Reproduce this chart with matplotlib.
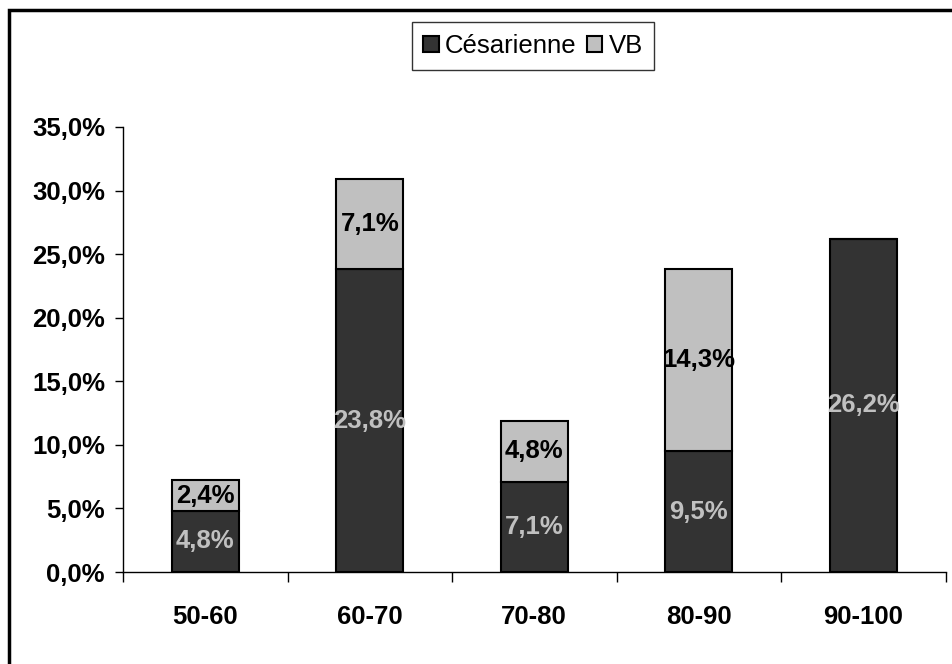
import numpy as np
import matplotlib.pyplot as plt
from matplotlib.patches import Rectangle
from matplotlib.ticker import FuncFormatter

plt.rcParams['font.family'] = ['Liberation Sans', 'DejaVu Sans']

categories = ['50-60', '60-70', '70-80', '80-90', '90-100']
cesarienne = [4.8, 23.8, 7.1, 9.5, 26.2]
vb = [2.4, 7.1, 4.8, 14.3, 0.0]

dark = '#333333'
light = '#c0c0c0'
fs = 18.5

fig = plt.figure(figsize=(9.52, 6.64), dpi=100)
ax = fig.add_axes([123 / 952, 92 / 664, (945.5 - 123) / 952, (572 - 127) / 664])

x = np.arange(len(categories))
w = 0.41
ax.bar(x, cesarienne, w, color=dark, edgecolor='black', linewidth=1.5, label='Césarienne')
ax.bar(x, vb, w, bottom=cesarienne, color=light, edgecolor='black', linewidth=1.5, label='VB')

# etiquettes dans les barres
for xi, c, v in zip(x, cesarienne, vb):
    ax.text(xi, c / 2, f'{c:.1f}%'.replace('.', ','), ha='center', va='center',
            color=light, fontsize=fs, fontweight='bold')
    if v > 0:
        ax.text(xi, c + v / 2, f'{v:.1f}%'.replace('.', ','), ha='center', va='center',
                color='black', fontsize=fs, fontweight='bold')

ax.set_xlim(-0.5, len(categories) - 0.5)
ax.set_ylim(0, 35)
ax.set_yticks(np.arange(0, 36, 5))
ax.yaxis.set_major_formatter(FuncFormatter(lambda y, p: f'{y:.1f}%'.replace('.', ',')))
ax.set_xticks(x)
ax.set_xticklabels(categories)
ax.set_xticks(np.arange(-0.5, len(categories)), minor=True)

ax.spines['top'].set_visible(False)
ax.spines['right'].set_visible(False)
ax.spines['left'].set_linewidth(1.0)
ax.spines['bottom'].set_linewidth(1.0)

ax.tick_params(axis='y', length=6, width=1, pad=7, labelsize=fs)
ax.tick_params(axis='x', which='major', length=0, pad=24, labelsize=fs)
ax.tick_params(axis='x', which='minor', length=7, width=1)
for lab in ax.get_xticklabels() + ax.get_yticklabels():
    lab.set_fontweight('bold')

leg = ax.legend(loc='center', bbox_to_anchor=(533 / 952, 1 - 46 / 664), bbox_transform=fig.transFigure,
                ncol=2, fontsize=fs, frameon=True, fancybox=False, handlelength=0.6, handleheight=0.6,
                handletextpad=0.25, columnspacing=0.4, borderpad=0.45, borderaxespad=0)
leg.get_frame().set_edgecolor('black')
leg.get_frame().set_linewidth(1.0)

# cadre autour du graphique
fig.patches.append(Rectangle((8.5 / 952, -0.05), 1.1, (664 - 9.5) / 664 + 0.05, transform=fig.transFigure,
                             fill=False, edgecolor='black', linewidth=2.5))

plt.savefig('out.png', dpi=100)
